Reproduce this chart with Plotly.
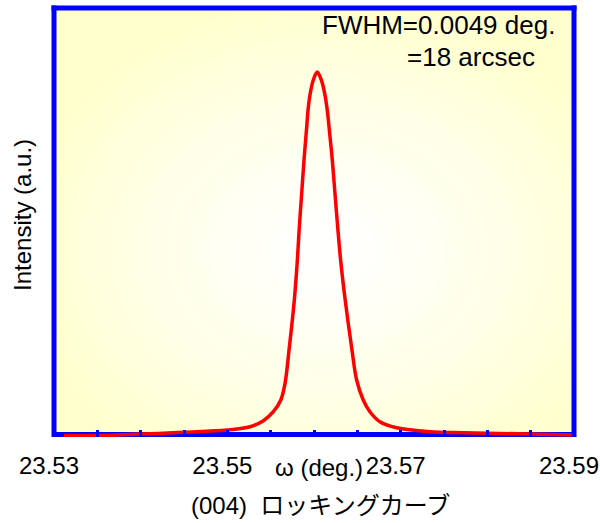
import plotly.graph_objects as go

# ---- data ----
omega_deg = [23.53113, 23.53728, 23.54495, 23.54995, 23.55263, 23.55416, 23.55531,
             23.55617, 23.55666, 23.55712, 23.55773, 23.55808, 23.55831, 23.55858,
             23.55885, 23.55916, 23.55931, 23.55957, 23.55992, 23.56038, 23.56084,
             23.56123, 23.56153, 23.56173, 23.56211, 23.56242, 23.56273, 23.56307,
             23.56360, 23.56438, 23.56492, 23.56568, 23.56645, 23.56760, 23.56952,
             23.57336, 23.57719, 23.58488, 23.59000]
intensity = [0.0, 0.14, 0.88, 1.51, 2.42, 4.07, 6.55,
             9.77, 14.36, 23.52, 37.28, 48.28, 57.44, 66.63,
             75.79, 84.95, 89.55, 94.14, 97.80, 100.0, 97.80,
             94.14, 89.55, 84.95, 75.79, 66.63, 57.44, 48.28,
             37.28, 23.52, 15.27, 9.77, 6.55, 3.80, 2.15,
             1.05, 0.77, 0.41, 0.14]

tick_values = [23.53, 23.535, 23.54, 23.545, 23.55, 23.555, 23.56,
               23.565, 23.57, 23.575, 23.58, 23.585, 23.59]
tick_labels = ["23.53", "", "", "", "23.55", "", "", "", "23.57", "", "", "", "23.59"]

x_range = [23.53, 23.59]
y_range = [-0.41, 117.6]

FONT = "Arial, Liberation Sans, Noto Sans CJK JP, sans-serif"
BLUE = "#0000FF"
W, H = 520, 429  # plot area size in px

fig = go.Figure()
fig.add_trace(go.Scatter(x=omega_deg, y=intensity, mode="lines",
                         line=dict(color="#FF0000", width=3.5, shape="spline", smoothing=1.0),
                         hoverinfo="skip", showlegend=False))

shapes = []
# radial (elliptical) yellow-to-white background gradient
xc, yc = 23.5615, 51.0
n = 40
for i in range(n):
    r = 1.6 * (1 - i / n) + 0.02
    t = min(r / 1.15, 1.0) ** 1.3
    b = int(round(255 - 50 * t))
    rx, ry = r * 0.032, r * 62
    shapes.append(dict(type="circle", xref="x", yref="y", layer="below",
                       x0=xc - rx, x1=xc + rx, y0=yc - ry, y1=yc + ry,
                       fillcolor=f"rgb(255,255,{b})", line=dict(width=0)))
# bottom frame line (under the red curve)
yb = (435.5 - 434.5) / 3.635
shapes.append(dict(type="line", xref="x", yref="y", layer="below",
                   x0=x_range[0], x1=x_range[1], y0=yb, y1=yb,
                   line=dict(color=BLUE, width=5)))
# top / left / right frame lines
ex = 2.5 / W
ey = 2.5 / H
shapes.append(dict(type="line", xref="paper", yref="paper", x0=-ex, x1=1 + ex, y0=1, y1=1,
                   line=dict(color=BLUE, width=5)))
shapes.append(dict(type="line", xref="paper", yref="paper", x0=0, x1=0, y0=0, y1=1 + ey,
                   line=dict(color=BLUE, width=5)))
shapes.append(dict(type="line", xref="paper", yref="paper", x0=1, x1=1, y0=0, y1=1 + ey,
                   line=dict(color=BLUE, width=5)))

def px(xp):
    return (xp - 54) / W

def py(yp):
    return (437 - yp) / H

annotations = [
    dict(text="FWHM=0.0049 deg.", x=px(320), y=py(25), xanchor="left", yanchor="middle",
         font=dict(size=26, color="black", family=FONT)),
    dict(text="=18 arcsec", x=px(405), y=py(57), xanchor="left", yanchor="middle",
         font=dict(size=26, color="black", family=FONT)),
    dict(text="ω (deg.)", x=px(319), y=py(467), xanchor="center", yanchor="middle",
         font=dict(size=24, color="black", family=FONT)),
    dict(text="(004)  ロッキングカーブ", x=px(320), y=py(505), xanchor="center", yanchor="middle",
         font=dict(size=24, color="black", family=FONT)),
    dict(text="Intensity (a.u.)", x=px(22), y=py(215), xanchor="center", yanchor="middle",
         textangle=-90, font=dict(size=24, color="black", family=FONT)),
]
for a in annotations:
    a.update(xref="paper", yref="paper", showarrow=False)

fig.update_layout(
    width=600, height=523,
    margin=dict(l=54, r=26, t=8, b=86, pad=0, autoexpand=False),
    paper_bgcolor="white", plot_bgcolor="white",
    shapes=shapes, annotations=annotations,
    xaxis=dict(range=x_range, showgrid=False, zeroline=False, showline=False,
               automargin=False,
               tickmode="array", tickvals=tick_values, ticktext=tick_labels,
               ticks="inside", ticklen=7, tickwidth=3, tickcolor=BLUE,
               ticklabelstandoff=12, ticklabelshift=-5, ticklabeloverflow="allow",
               tickfont=dict(size=24, color="black", family=FONT)),
    yaxis=dict(range=y_range, showgrid=False, zeroline=False, showline=False,
               automargin=False, showticklabels=False, ticks=""),
)

fig.write_html("out.html", config={"displayModeBar": False},
               post_script="document.body.style.margin='0px';document.body.style.overflow='hidden';")
